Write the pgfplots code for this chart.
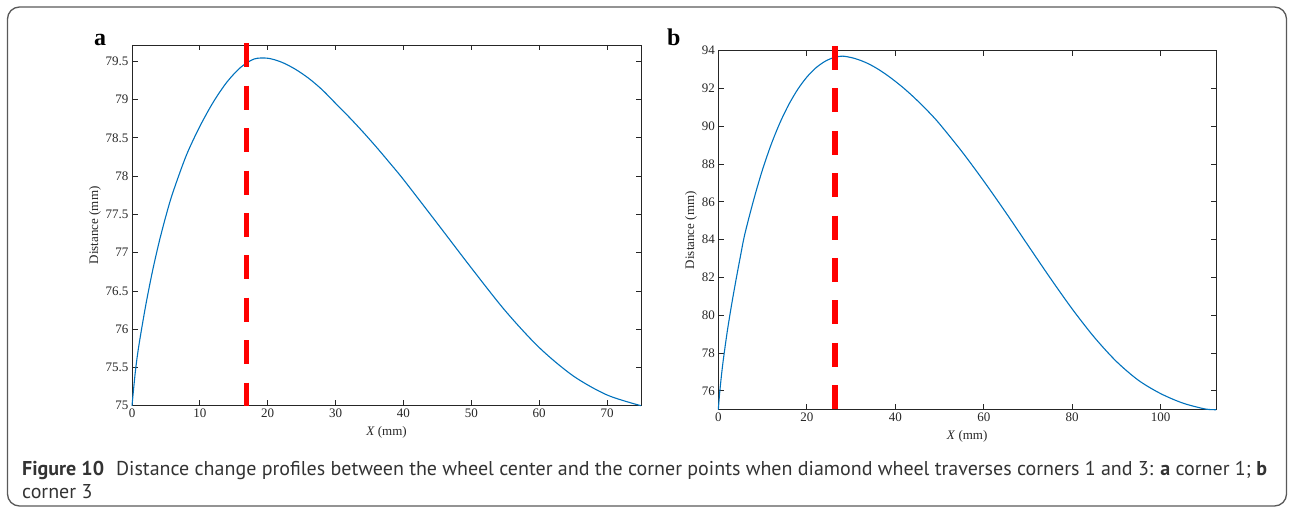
\documentclass[border=0pt]{standalone}
\usepackage{fontspec}
\setmainfont{Liberation Serif}
\newfontfamily\capfont{PT Sans}
\usepackage{pgfplots}
\pgfplotsset{compat=1.18}
\definecolor{mblue}{HTML}{0072BD}
\definecolor{axgray}{HTML}{262626}
\definecolor{capgray}{HTML}{333333}
\pgfplotsset{mstyle/.style={
  scale only axis, clip=false,
  axis line style={axgray, line width=0.9pt},
  tick align=inside, major tick length=5.5pt,
  every tick/.style={axgray, line width=0.8pt},
  tick label style={font=\fontsize{13}{13}\selectfont, text=axgray},
  /pgf/number format/assume math mode=true,
  label style={font=\fontsize{13}{13}\selectfont, text=axgray},
  xlabel style={yshift=-2pt},
  ylabel style={yshift=-2pt},
  xlabel={\textit{X} (mm)}, ylabel={Distance (mm)},
  minor tick num=0,
}}
\begin{document}
\begin{tikzpicture}[x=1pt,y=1pt]
\useasboundingbox (0,0) rectangle (1290,507);
\draw[draw=black!65, line width=1.3pt, rounded corners=12pt] (7.5,1) rectangle (1286.5,500);

% panel a
\begin{axis}[mstyle,
  at={(132pt,101.3pt)}, anchor=south west,
  width=509pt, height=360.7pt,
  xmin=0, xmax=75, ymin=75, ymax=79.713,
  xtick={0,10,20,30,40,50,60,70},
  ytick={75,75.5,76,76.5,77,77.5,78,78.5,79,79.5},
  yticklabels={75,75.5,76,76.5,77,77.5,78,78.5,79,79.5},
]
\addplot[mblue, line width=1.1pt, smooth] coordinates {
(0,75) (0.5,75.45) (1,75.78) (2,76.30) (3,76.75) (4,77.14) (5,77.48) (6,77.78) (8,78.27) (10,78.65) (12,78.97) (14,79.23) (16,79.42) (18,79.53) (20,79.54) (22,79.49) (24,79.40) (26,79.28) (28,79.13) (30,78.95) (32,78.77) (34,78.58) (36,78.38) (38,78.17) (40,77.955) (45,77.38) (50,76.80) (55,76.24) (60,75.76) (65,75.39) (70,75.14) (75,75.0)
};
\addplot[red, line width=5.5pt, dash pattern=on 24pt off 18.4pt] coordinates {(16.9,79.735) (16.9,75)};
\end{axis}

% panel b
\begin{axis}[mstyle,
  at={(718.3pt,97.3pt)}, anchor=south west,
  width=497.7pt, height=359pt,
  xmin=0, xmax=112.5, ymin=75, ymax=94,
  xtick={0,20,40,60,80,100},
  ytick={76,78,80,82,84,86,88,90,92,94},
]
\addplot[mblue, line width=1.1pt, smooth] coordinates {
(0,75) (0.35,76) (1,77.4) (2,79.1) (3,80.55) (4,81.87) (5,83.12) (6,84.3) (8,86.11) (10,87.71) (12,89.07) (14,90.22) (16,91.18) (18,91.97) (20,92.6) (22,93.08) (24,93.42) (26,93.63) (28,93.71) (30,93.64) (32,93.50) (34,93.30) (36,93.04) (38,92.73) (40,92.38) (42,92.0) (44,91.58) (46,91.13) (48,90.65) (50,90.13) (55,88.68) (60,87.1) (65,85.43) (70,83.7) (75,81.98) (80,80.33) (85,78.83) (90,77.55) (95,76.55) (100,75.85) (105,75.35) (110,75.04) (112.5,75.0)
};
\addplot[red, line width=5.5pt, dash pattern=on 24pt off 18.4pt] coordinates {(26.4,94.25) (26.4,75)};
\end{axis}

\node[anchor=base, inner sep=0, font=\bfseries\fontsize{24}{24}\selectfont] at (100,461) {a};
\node[anchor=base, inner sep=0, font=\bfseries\fontsize{24}{24}\selectfont] at (673.7,461) {b};

\node[anchor=base west, inner sep=0, text=capgray, font=\capfont\fontsize{20}{24}\selectfont] at (22,32) {\textbf{Figure 10}\hspace{0.6em}Distance change profiles between the wheel center and the corner points when diamond wheel traverses corners 1 and 3: \textbf{a} corner 1; \textbf{b}};
\node[anchor=base west, inner sep=0, text=capgray, font=\capfont\fontsize{20}{24}\selectfont] at (22,9) {corner 3};
\end{tikzpicture}
\end{document}
